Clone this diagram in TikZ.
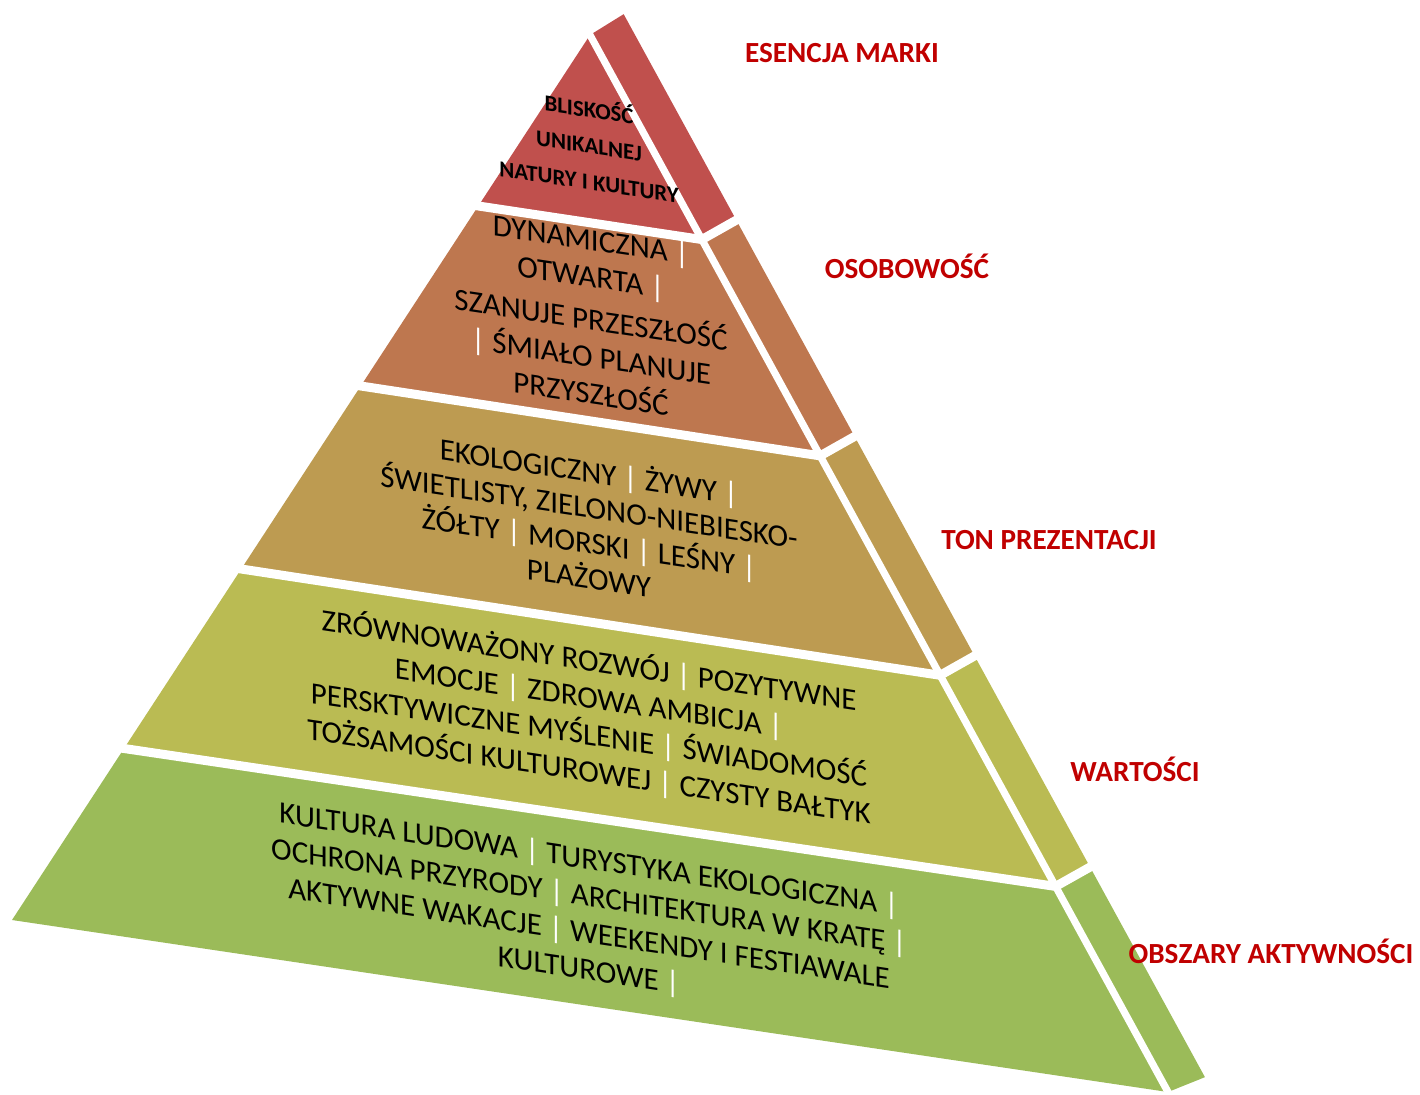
\documentclass[tikz,border=0pt]{standalone}
\usepackage{fontspec}
\setmainfont{Carlito}
\usetikzlibrary{calc}

\definecolor{essence}{HTML}{C0504D}
\definecolor{persona}{HTML}{BE774F}
\definecolor{tone}{HTML}{BD9B51}
\definecolor{values}{HTML}{BABB53}
\definecolor{areas}{HTML}{9BBB59}
\definecolor{labelred}{HTML}{C00000}

\newcommand{\wbar}{\textcolor{white}{|}}

\tikzset{
	gap/.style={draw=white, line width=4.5pt, line join=bevel},
	seam/.style={draw=white, line width=3.6pt},
	layertext/.style={align=center, inner sep=0pt, yslant=-0.15, transform shape,
		font=\fontsize{15.5}{18.5}\selectfont},
	levelname/.style={anchor=base, text=labelred,
		font=\bfseries\fontsize{14.6}{17}\selectfont}
}

\begin{document}
\begin{tikzpicture}[x=0.5pt, y=-0.5pt]
	\useasboundingbox (0,0) rectangle (1420,1094);
	
	%% -- Pyramid outline: front triangle and outer line of the side
	\coordinate (apex) at (590,35);
	\coordinate (bl) at (12,920);
	\coordinate (br) at (1168,1092);
	\coordinate (stop) at (635,35);
	\coordinate (sbot) at (1213,1092);
	
	%% -- Layer borders on the left edge
	\coordinate (l1) at ($(apex)!0.1932!(bl)$);
	\coordinate (l2) at ($(apex)!0.3966!(bl)$);
	\coordinate (l3) at ($(apex)!0.6034!(bl)$);
	\coordinate (l4) at ($(apex)!0.8062!(bl)$);
	\foreach \i/\s in {1/150,2/152,3/152,4/148}{
		\coordinate (f\i) at ($(l\i)+(1000,\s)$);
		\coordinate (r\i) at (intersection of apex--br and l\i--f\i);
		\coordinate (g\i) at ($(r\i)+(300,-170)$);
		\coordinate (o\i) at (intersection of stop--sbot and r\i--g\i);
	}
	\coordinate (g0) at ($(apex)+(290,-180)$);
	\coordinate (o0) at (intersection of stop--sbot and apex--g0);
	\coordinate (g5) at ($(br)+(320,-130)$);
	\coordinate (o5) at (intersection of stop--sbot and br--g5);
	
	%% -- Layer faces (front and side together)
	\fill[essence] (apex) -- (o0) -- (o1) -- (r1) -- (l1) -- cycle;
	\fill[persona] (l1) -- (r1) -- (o1) -- (o2) -- (r2) -- (l2) -- cycle;
	\fill[tone]    (l2) -- (r2) -- (o2) -- (o3) -- (r3) -- (l3) -- cycle;
	\fill[values]  (l3) -- (r3) -- (o3) -- (o4) -- (r4) -- (l4) -- cycle;
	\fill[areas]   (l4) -- (r4) -- (o4) -- (o5) -- (br) -- (bl) -- cycle;
	
	%% -- White gaps between layers and between front and side
	\foreach \i in {1,...,4}{
		\draw[gap, shorten <=-6pt, shorten >=-6pt] (l\i) -- (r\i) -- (o\i);
	}
	\draw[seam] ($(apex)!-0.02!(br)$) -- ($(br)!-0.02!(apex)$);
	
	%% -- Texts on the front faces
	\node[layertext, font=\bfseries\fontsize{11.4}{18}\selectfont] (essencetext)
	at (589,144) {BLISKOŚĆ\\UNIKALNEJ\\NATURY I KULTURY};
	
	\node[layertext] (personatext) at (591,316)
	{DYNAMICZNA \wbar\\OTWARTA \wbar\\[3pt]SZANUJE PRZESZŁOŚĆ\\
		\wbar{} ŚMIAŁO PLANUJE\\PRZYSZŁOŚĆ};
	
	\node[layertext, font=\fontsize{15.5}{17.75}\selectfont] (tonetext) at (589,523)
	{EKOLOGICZNY \wbar{} ŻYWY \wbar\\ŚWIETLISTY, ZIELONO-NIEBIESKO-\\
		ŻÓŁTY \wbar{} MORSKI \wbar{} LEŚNY \wbar\\PLAŻOWY};
	
	\node[layertext] (valuestext) at (589,716)
	{ZRÓWNOWAŻONY ROZWÓJ \wbar{} POZYTYWNE\\EMOCJE \wbar{} ZDROWA AMBICJA \wbar\\
		PERSKTYWICZNE MYŚLENIE \wbar{} ŚWIADOMOŚĆ\\
		TOŻSAMOŚCI KULTUROWEJ \wbar{} CZYSTY BAŁTYK};
	
	\node[layertext] (areastext) at (589,916)
	{KULTURA LUDOWA \wbar{} TURYSTYKA EKOLOGICZNA \wbar\\
		OCHRONA PRZYRODY \wbar{} ARCHITEKTURA W KRATĘ \wbar\\
		AKTYWNE WAKACJE \wbar{} WEEKENDY I FESTIAWALE\\KULTUROWE \wbar};
	
	%% -- Level names on the right
	\node[levelname] (essencename) at (842,62) {ESENCJA MARKI};
	\node[levelname] (personaname) at (907,278) {OSOBOWOŚĆ};
	\node[levelname] (tonename) at (1049,549) {TON PREZENTACJI};
	\node[levelname] (valuesname) at (1135,781) {WARTOŚCI};
	\node[levelname] (areasname) at (1271,963) {OBSZARY AKTYWNOŚCI};
	
\end{tikzpicture}
\end{document}
